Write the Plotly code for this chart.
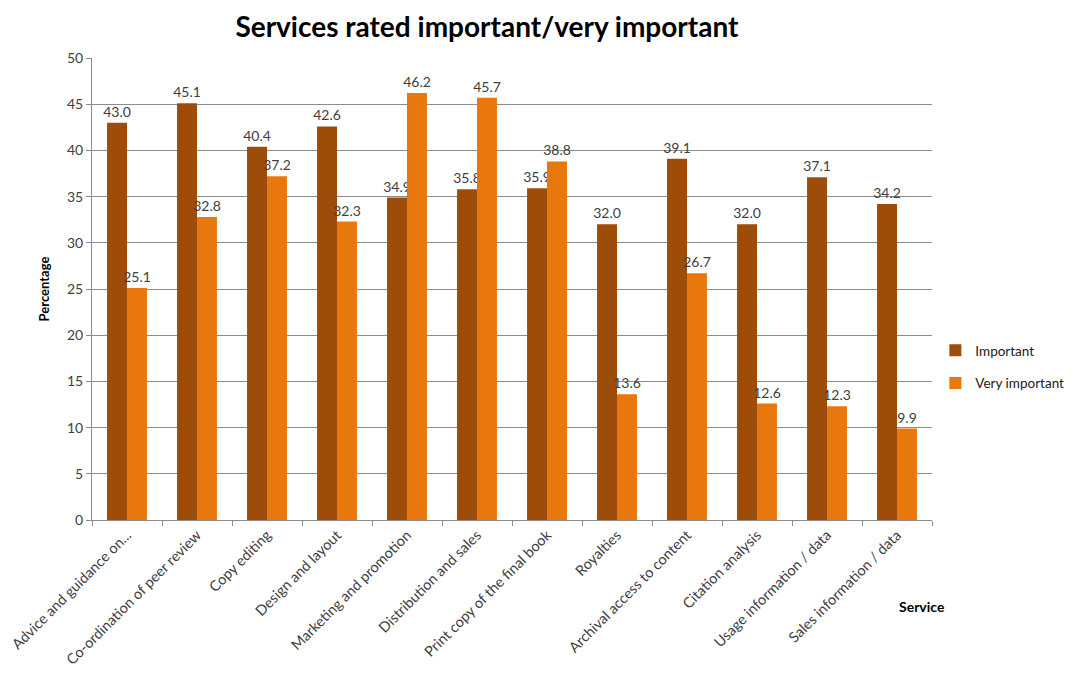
import plotly.graph_objects as go

services = [
    "Advice and guidance on...",
    "Co-ordination of peer review",
    "Copy editing",
    "Design and layout",
    "Marketing and promotion",
    "Distribution and sales",
    "Print copy of the final book",
    "Royalties",
    "Archival access to content",
    "Citation analysis",
    "Usage information / data",
    "Sales information / data",
]
important = [43.0, 45.1, 40.4, 42.6, 34.9, 35.8, 35.9, 32.0, 39.1, 32.0, 37.1, 34.2]
very_important = [25.1, 32.8, 37.2, 32.3, 46.2, 45.7, 38.8, 13.6, 26.7, 12.6, 12.3, 9.9]

FONT = "Lato, 'Open Sans', sans-serif"
DARK = "#9E4C0A"
ORANGE = "#E8780E"

fig = go.Figure()
fig.add_trace(go.Bar(
    x=services, y=important, name="Important", legendgroup="a",
    marker=dict(color=DARK, line=dict(width=0)),
    text=[f"{v:.1f}" for v in important], textposition="outside",
    constraintext="none",
    textfont=dict(size=14, color="#404040"), cliponaxis=False,
))
fig.add_trace(go.Bar(
    x=services, y=very_important, name="Very important", legendgroup="b",
    marker=dict(color=ORANGE, line=dict(width=0)),
    text=[f"{v:.1f}" for v in very_important], textposition="outside",
    constraintext="none",
    textfont=dict(size=14, color="#404040"), cliponaxis=False,
))

# page body has an 8px margin, so the figure is shrunk and margins shifted to match
fig.update_layout(
    width=1069, height=674,
    barmode="group", bargap=0.43, bargroupgap=0,
    plot_bgcolor="#ffffff", paper_bgcolor="#ffffff",
    font=dict(family=FONT, size=14, color="#404040"),
    margin=dict(l=84, r=145, t=50, b=162, autoexpand=False),
    title=dict(text="<b>Services rated important/very important</b>",
               x=0.448, xanchor="center", y=0.972, yanchor="middle",
               font=dict(size=28, color="#000000")),
    legend=dict(x=1.004, xanchor="left", y=0.331, yanchor="middle",
                font=dict(size=13.5, color="#202020"), tracegroupgap=12,
                itemwidth=30, traceorder="grouped"),
)
fig.update_yaxes(
    range=[0, 50], dtick=5, showgrid=True, gridcolor="#8C8C8C", gridwidth=1,
    showline=True, linecolor="#8C8C8C", ticks="outside", ticklen=5, tickcolor="#8C8C8C",
    tickfont=dict(size=14, color="#404040"),
    title=dict(text="<b>Percentage</b>", font=dict(size=13, color="#000000"), standoff=14),
    zeroline=False,
)
fig.update_xaxes(
    tickangle=-45, showline=True, linecolor="#8C8C8C", ticks="outside", ticklen=5,
    tickcolor="#8C8C8C", tickson="boundaries", showgrid=False,
    tickfont=dict(size=14.5, color="#404040"),
)
fig.add_annotation(
    text="<b>Service</b>", xref="paper", yref="paper", x=0.988, y=-0.188,
    xanchor="center", yanchor="middle",
    showarrow=False, font=dict(size=14, color="#000000"),
)

fig.write_html("out.html")
